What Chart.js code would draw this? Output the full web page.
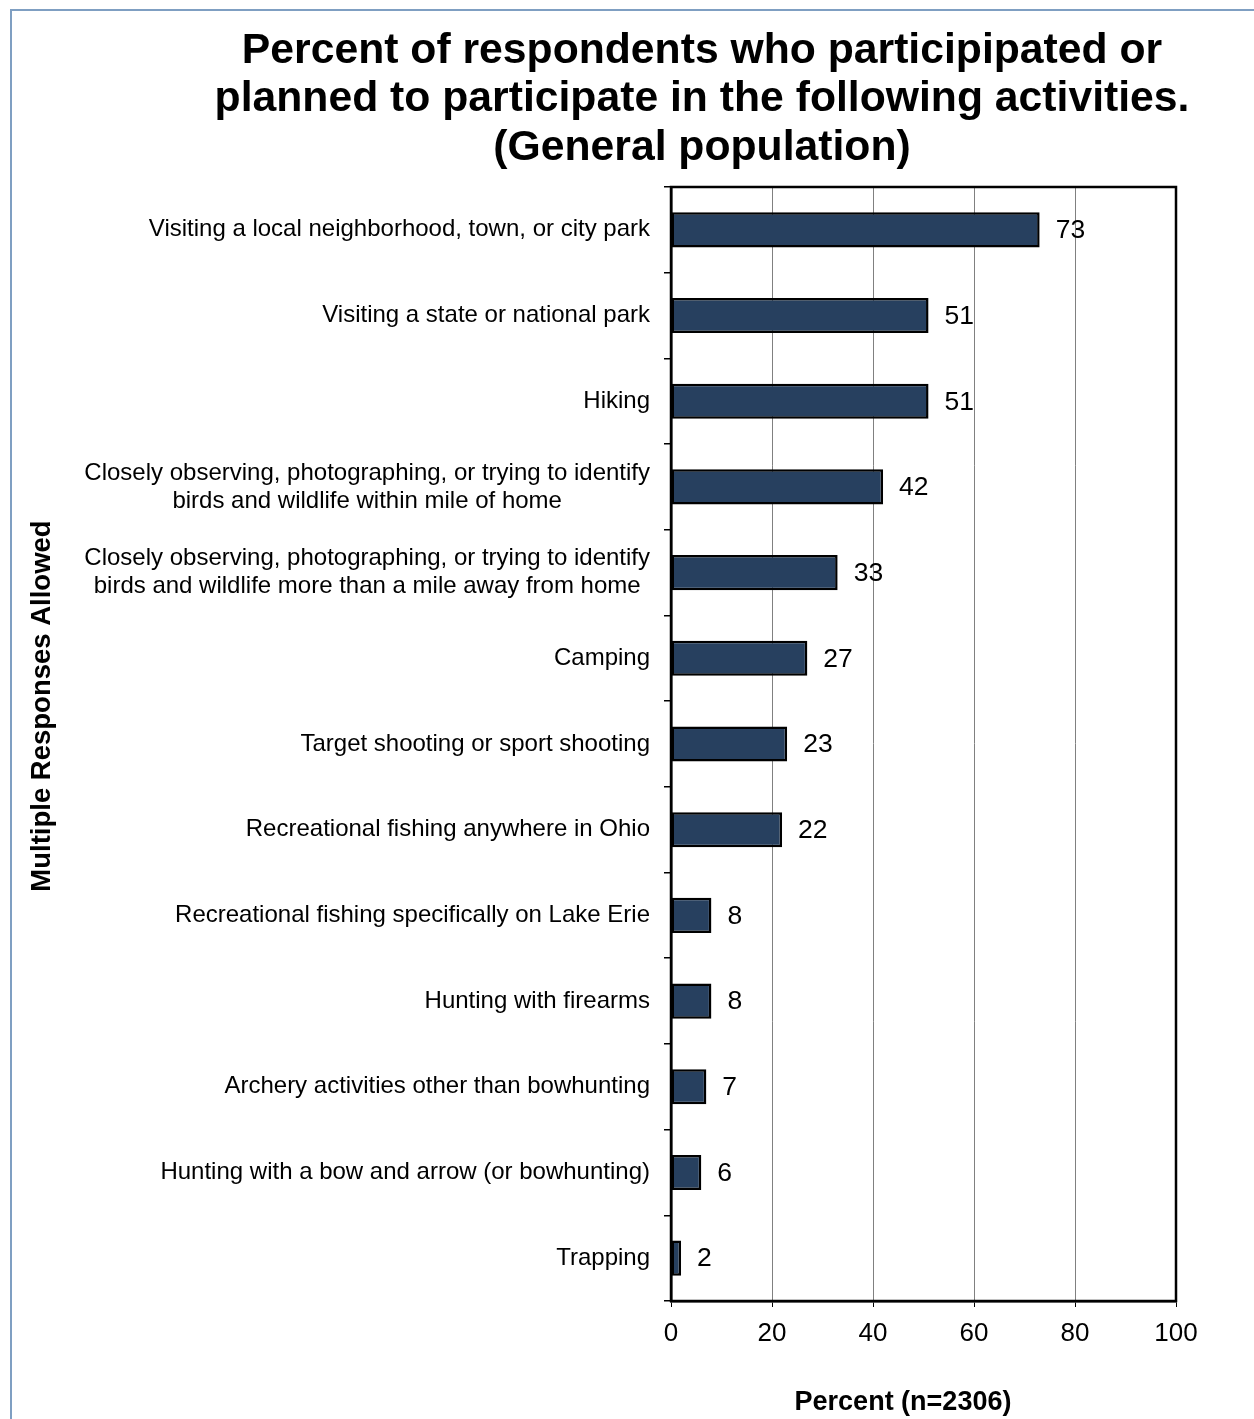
<!DOCTYPE html>
<html>
<head>
<meta charset="utf-8">
<script src="https://cdn.jsdelivr.net/npm/chart.js@4.4.1/dist/chart.umd.min.js"></script>
<style>
  body { margin: 0; background: #fff; }
  canvas { display: block; }
</style>
</head>
<body>
<canvas id="activityChart" width="1254" height="1419"></canvas>
<script>
// data
const activities = [
  'Visiting a local neighborhood, town, or city park',
  'Visiting a state or national park',
  'Hiking',
  ['Closely observing, photographing, or trying to identify', 'birds and wildlife within mile of home'],
  ['Closely observing, photographing, or trying to identify', 'birds and wildlife more than a mile away from home'],
  'Camping',
  'Target shooting or sport shooting',
  'Recreational fishing anywhere in Ohio',
  'Recreational fishing specifically on Lake Erie',
  'Hunting with firearms',
  'Archery activities other than bowhunting',
  'Hunting with a bow and arrow (or bowhunting)',
  'Trapping'
];
const percents = [73, 51, 51, 42, 33, 27, 23, 22, 8, 8, 7, 6, 2];
const percentTicks = [0, 20, 40, 60, 80, 100];
const titleLines = [
  'Percent of respondents who participipated or',
  'planned to participate in the following activities.',
  '(General population)'
];
const xTitle = 'Percent (n=2306)';
const yTitle = 'Multiple Responses Allowed';

const FONT = '"Liberation Sans", Arial, sans-serif';

// white background, title, category labels, value labels, borders and axis titles
const extras = {
  id: 'extras',
  beforeDraw(chart) {
    const ctx = chart.ctx;
    ctx.save();
    ctx.fillStyle = '#fff';
    ctx.fillRect(0, 0, chart.width, chart.height);
    ctx.restore();
  },
  afterDraw(chart) {
    const ctx = chart.ctx;
    const yScale = chart.scales.y;
    const area = chart.chartArea;
    ctx.save();
    ctx.fillStyle = '#000';
    ctx.textBaseline = 'middle';
    ctx.textAlign = 'center';

    // chart title (drawn by hand so it is not squeezed to the padded box)
    ctx.font = 'bold 42.7px ' + FONT;
    titleLines.forEach((line, i) => {
      ctx.fillText(line, 702, 51 + i * 48.5);
    });

    // category labels: right aligned, lines of a label centred on each other
    ctx.font = '24px ' + FONT;
    activities.forEach((label, i) => {
      const lines = Array.isArray(label) ? label : [label];
      const widest = Math.max(...lines.map(l => ctx.measureText(l).width));
      const cx = yScale.right - 21 - widest / 2;
      const cy = yScale.getPixelForValue(i);
      lines.forEach((line, j) => {
        ctx.fillText(line, cx, cy + (j - (lines.length - 1) / 2) * 28);
      });
    });

    // value labels
    ctx.font = '26.5px ' + FONT;
    ctx.textAlign = 'left';
    chart.getDatasetMeta(0).data.forEach((bar, i) => {
      ctx.fillText(String(percents[i]), bar.x + 16, bar.y + 1);
    });

    // plot frame
    ctx.strokeStyle = '#000';
    ctx.lineWidth = 2.5;
    ctx.strokeRect(area.left, area.top, area.right - area.left, area.bottom - area.top);

    // x axis title
    ctx.font = 'bold 27px ' + FONT;
    ctx.textAlign = 'center';
    ctx.fillText(xTitle, 903, 1403);

    // y axis title
    ctx.font = 'bold 27.5px ' + FONT;
    ctx.translate(42, 706);
    ctx.rotate(-Math.PI / 2);
    ctx.fillText(yTitle, 0, 0);
    ctx.setTransform(1, 0, 0, 1, 0, 0);

    // outer frame
    ctx.strokeStyle = '#7f9fc2';
    ctx.lineWidth = 2;
    ctx.strokeRect(11, 10, 1400, 1600);
    ctx.restore();
  }
};

const ctx = document.getElementById('activityChart').getContext('2d');
new Chart(ctx, {
  type: 'bar',
  data: {
    labels: activities,
    datasets: [{
      label: 'Percent',
      data: percents,
      backgroundColor: '#27405f',
      borderColor: '#000',
      borderWidth: 2.5,
      borderSkipped: false,
      barPercentage: 0.41,
      categoryPercentage: 1.0
    }]
  },
  options: {
    indexAxis: 'y',
    responsive: false,
    animation: false,
    devicePixelRatio: 1,
    layout: { padding: { left: 228, right: 78, top: 187, bottom: 0 } },
    plugins: {
      legend: { display: false },
      tooltip: { enabled: false },
      title: { display: false }
    },
    scales: {
      x: {
        min: 0,
        max: 100,
        afterBuildTicks: scale => { scale.ticks = percentTicks.map(v => ({ value: v })); },
        afterFit: scale => { scale.height = 118; },
        grid: { color: '#808080', lineWidth: 1, tickColor: '#000', tickLength: 6 },
        border: { color: '#000', width: 2.5 },
        ticks: { color: '#000', padding: 11, font: { family: FONT, size: 26 } }
      },
      y: {
        afterFit: scale => { scale.width = 443; },
        grid: { drawOnChartArea: false, drawTicks: true, tickLength: 7, color: '#000', lineWidth: 1.5 },
        border: { color: '#000', width: 2.5 },
        ticks: { display: false }
      }
    }
  },
  plugins: [extras]
});
</script>
</body>
</html>
